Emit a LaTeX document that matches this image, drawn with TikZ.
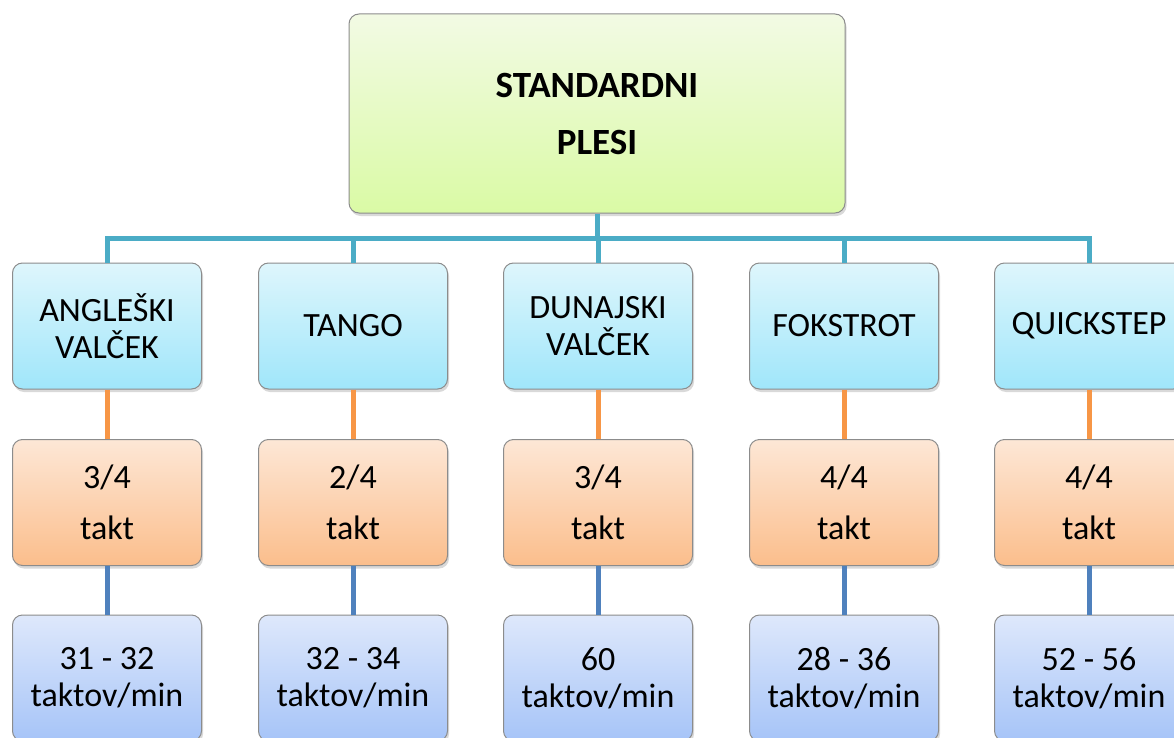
\documentclass[tikz,border=0pt]{standalone}
\usepackage{fontspec}
\setmainfont{Carlito}
\usetikzlibrary{shadows}
\definecolor{boxline}{HTML}{8C8C8C}
\definecolor{bustop}{HTML}{4BACC6}
\definecolor{linkorange}{HTML}{F79646}
\definecolor{linkblue}{HTML}{4F81BD}
\tikzset{
  box/.style={rounded corners=10pt, draw=boxline, line width=1pt,
    minimum width=189pt, minimum height=126pt, inner sep=0pt, align=center,
    font=\fontsize{34}{37}\selectfont,
    drop shadow={shadow xshift=1.5pt, shadow yshift=-3pt, opacity=0.3}},
  rootbox/.style={box, minimum width=496pt, minimum height=199pt,
    top color={rgb,255:red,242;green,250;blue,228}, bottom color={rgb,255:red,218;green,250;blue,165},
    font=\fontsize{37}{40}\selectfont\bfseries},
  dancebox/.style={box, top color={rgb,255:red,222;green,246;blue,252}, bottom color={rgb,255:red,160;green,230;blue,250}},
  metrebox/.style={box, top color={rgb,255:red,253;green,231;blue,214}, bottom color={rgb,255:red,251;green,190;blue,140}},
  tempobox/.style={box, top color={rgb,255:red,222;green,232;blue,251}, bottom color={rgb,255:red,166;green,196;blue,248}},
  link/.style={line width=5pt}
}
\begin{document}
\begin{tikzpicture}[x=1pt, y=-1pt]
\useasboundingbox (0,0) rectangle (1174,738);
\clip (0,0) rectangle (1174,738);
% root
\node[rootbox] (root) at (597,113.5) {STANDARDNI\\[17pt]PLESI};
\coordinate (bus) at (0,238);
% dances
\node[dancebox] (angleski) at (107,326) {ANGLEŠKI\\VALČEK};
\node[dancebox] (tango) at (353,326) {TANGO};
\node[dancebox] (dunajski) at (598,326) {DUNAJSKI\\VALČEK};
\node[dancebox] (fokstrot) at (844,326) {FOKSTROT};
\node[dancebox] (quickstep) at (1089,326) {QUICKSTEP};
% metre
\node[metrebox] (takta) at (107,502.5) {3/4\\[14pt]takt};
\node[metrebox] (taktt) at (353,502.5) {2/4\\[14pt]takt};
\node[metrebox] (taktd) at (598,502.5) {3/4\\[14pt]takt};
\node[metrebox] (taktf) at (844,502.5) {4/4\\[14pt]takt};
\node[metrebox] (taktq) at (1089,502.5) {4/4\\[14pt]takt};
% tempo
\node[tempobox] (tempoa) at (107,678) {31 - 32\\taktov/min};
\node[tempobox] (tempot) at (353,678) {32 - 34\\taktov/min};
\node[tempobox] (tempod) at (598,678) {60\\taktov/min};
\node[tempobox] (tempof) at (844,678) {28 - 36\\taktov/min};
\node[tempobox] (tempoq) at (1089,678) {52 - 56\\taktov/min};
% connectors
\draw[link, bustop] (root.south) -- (root.south |- bus);
\draw[link, bustop] (angleski.north) |- (root.south |- bus);
\draw[link, bustop] (tango.north) |- (root.south |- bus);
\draw[link, bustop] (dunajski.north) -- (dunajski.north |- bus);
\draw[link, bustop] (fokstrot.north) |- (root.south |- bus);
\draw[link, bustop] (quickstep.north) |- (root.south |- bus);
\draw[link, linkorange] (angleski) -- (takta);
\draw[link, linkorange] (tango) -- (taktt);
\draw[link, linkorange] (dunajski) -- (taktd);
\draw[link, linkorange] (fokstrot) -- (taktf);
\draw[link, linkorange] (quickstep) -- (taktq);
\draw[link, linkblue] (takta) -- (tempoa);
\draw[link, linkblue] (taktt) -- (tempot);
\draw[link, linkblue] (taktd) -- (tempod);
\draw[link, linkblue] (taktf) -- (tempof);
\draw[link, linkblue] (taktq) -- (tempoq);
\end{tikzpicture}
\end{document}
